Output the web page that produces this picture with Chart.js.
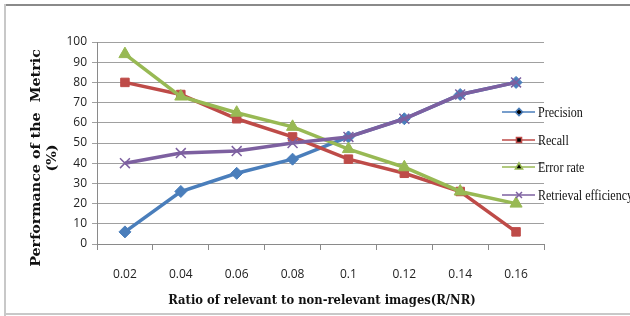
<!DOCTYPE html>
<html>
<head>
<meta charset="utf-8">
<script src="https://cdn.jsdelivr.net/npm/chart.js@4/dist/chart.umd.min.js"></script>
<style>
  html, body { margin: 0; padding: 0; background: #fff; }
  #wrap { width: 630px; height: 316px; position: relative; }
</style>
</head>
<body>
<div id="wrap"><canvas id="myChart" width="630" height="316"></canvas></div>
<script>
const ratios = ['0.02', '0.04', '0.06', '0.08', '0.1', '0.12', '0.14', '0.16'];
const precision = [6, 26, 35, 42, 53, 62, 74, 80];
const recall = [80, 74, 62, 53, 42, 35, 26, 6];
const errorRate = [94, 73, 65, 58, 47, 38, 26, 20];
const retrievalEff = [40, 45, 46, 50, 53, 62, 74, 80];

const yTitle = ['Performance of the  Metric', '(%)'];
const xTitle = 'Ratio of relevant to non-relevant images(R/NR)';

// frame, axis titles and the line+marker legend
const extras = {
    id: 'extras',
    afterDraw(chart) {
        const c = chart.ctx;
        c.save();
        c.fillStyle = '#c8c8c8';
        c.fillRect(4, 4, 2, 312);
        c.fillRect(4, 313, 626, 2);
        c.fillStyle = '#8a8a8a';
        c.fillRect(6, 4, 624, 2);

        c.fillStyle = '#111';
        c.font = 'bold 13px "DejaVu Serif", serif';
        c.textAlign = 'center';
        c.textBaseline = 'middle';
        c.save();
        c.translate(322, 301);
        c.scale(0.89, 1);
        c.fillText(xTitle, 0, 0);
        c.restore();

        c.translate(45, 158);
        c.rotate(-Math.PI / 2);
        c.scale(1.1, 1);
        c.fillText(yTitle[0], 0, -8);
        c.fillText(yTitle[1], 0, 8);
        c.restore();

        // legend
        const rows = [112, 140, 167, 195];
        chart.data.datasets.forEach((ds, i) => {
            const y = rows[i];
            c.save();
            c.strokeStyle = ds.borderColor;
            c.lineWidth = 1.5;
            c.beginPath();
            c.moveTo(502, y);
            c.lineTo(535, y);
            c.stroke();
            Chart.helpers.drawPoint(c, {
                pointStyle: ds.pointStyle,
                radius: ds.pointRadius * 0.6,
                borderWidth: 1.2,
                rotation: 0
            }, 519, y);
            c.fillStyle = '#111';
            c.font = '14px "Liberation Serif", serif';
            c.textAlign = 'left';
            c.textBaseline = 'middle';
            c.translate(538, y + 1);
            c.scale(0.86, 1);
            c.fillText(ds.label, 0, 0);
            c.restore();
        });
    }
};

function series(label, data, color, style, radius, order) {
    return {
        label: label,
        data: data,
        borderColor: color,
        backgroundColor: color,
        pointBackgroundColor: color,
        pointBorderColor: color,
        borderWidth: 3.5,
        pointStyle: style,
        pointRadius: radius,
        pointBorderWidth: style === 'crossRot' ? 1.5 : 1,
        tension: 0,
        order: order
    };
}

const ctx = document.getElementById('myChart').getContext('2d');
const myChart = new Chart(ctx, {
    type: 'line',
    data: {
        labels: ratios,
        datasets: [
            series('Precision', precision, '#4a7ebb', 'rectRot', 6, 4),
            series('Recall', recall, '#be4b48', 'rect', 6, 3),
            series('Error rate', errorRate, '#98b954', 'triangle', 7, 2),
            series('Retrieval efficiency', retrievalEff, '#7d60a0', 'crossRot', 7, 1)
        ]
    },
    options: {
        responsive: false,
        animation: false,
        layout: { padding: { left: 0, top: 42, right: 86, bottom: 0 } },
        plugins: { legend: { display: false }, tooltip: { enabled: false } },
        scales: {
            x: {
                offset: true,
                grid: {
                    offset: true,
                    drawOnChartArea: false,
                    drawTicks: true,
                    tickLength: 6,
                    color: '#8a8a8a'
                },
                border: { display: true, color: '#8a8a8a', width: 1 },
                ticks: {
                    padding: 17,
                    color: '#222',
                    font: { family: '"Liberation Sans Narrow", "Open Sans", sans-serif', size: 12 }
                },
                afterFit(scale) { scale.height = 72; }
            },
            y: {
                min: 0,
                max: 100,
                ticks: {
                    stepSize: 10,
                    padding: 5,
                    color: '#222',
                    font: { family: '"Liberation Sans Narrow", "Open Sans", sans-serif', size: 12 }
                },
                grid: { color: '#a0a0a0', lineWidth: 1, tickLength: 5 },
                border: { display: true, color: '#8a8a8a', width: 1 },
                afterFit(scale) { scale.width = 97; }
            }
        }
    },
    plugins: [extras]
});
</script>
</body>
</html>
